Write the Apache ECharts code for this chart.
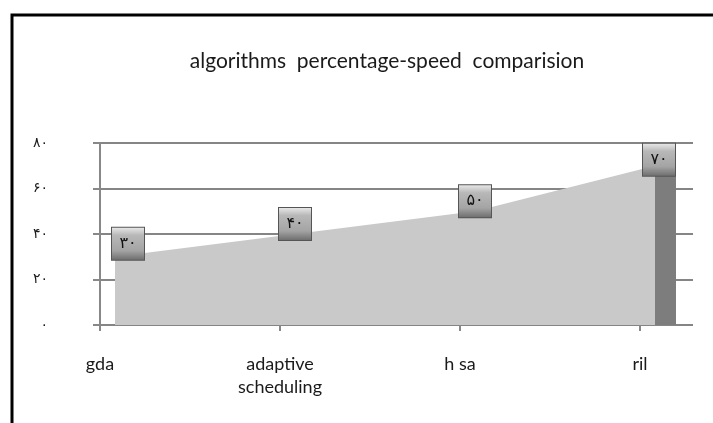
<!DOCTYPE html>
<html>
<head>
<meta charset="utf-8">
<script src="https://cdn.jsdelivr.net/npm/echarts@6/dist/echarts.min.js"></script>
<style>
  html, body { margin: 0; padding: 0; background: #fff; }
  #chart { width: 713px; height: 423px; }
</style>
</head>
<body>
<div id="chart"></div>
<script>
// ---- data ----
var chartTitle = 'algorithms  percentage-speed  comparision';
var categories = ['gda', 'adaptive\nscheduling', 'h sa', 'ril'];
var speedValues = [30, 40, 50, 70];
var yTicks = [0, 20, 40, 60, 80];

// Persian digits
function toFa(n) {
  var d = ['\u06F0','\u06F1','\u06F2','\u06F3','\u06F4','\u06F5','\u06F6','\u06F7','\u06F8','\u06F9'];
  return String(n).replace(/[0-9]/g, function (c) { return d[+c]; });
}

var chart = echarts.init(document.getElementById('chart'));
var yMin = yTicks[0], yMax = yTicks[yTicks.length - 1], yStep = yTicks[1] - yTicks[0];

var labelBg = new echarts.graphic.LinearGradient(0, 0, 0, 1, [
  { offset: 0, color: '#ececec' },
  { offset: 0.25, color: '#b8b8b8' },
  { offset: 0.7, color: '#a4a4a4' },
  { offset: 1, color: '#6a6a6a' }
]);

var areaData = speedValues.map(function (v, i) {
  var off = i === 0 ? [13, -13] : (i === speedValues.length - 1 ? [4, -6] : [0, -10]);
  return { value: v, label: { offset: off } };
});

var lastIdx = speedValues.length - 1;

var option = {
  animation: false,
  backgroundColor: '#fff',
  title: {
    text: chartTitle,
    left: 382,
    textAlign: 'center',
    top: 46,
    textStyle: { fontFamily: 'Lato', fontSize: 21, fontWeight: 'normal', color: '#1a1a1a' }
  },
  graphic: [{
    type: 'rect',
    shape: { x: 12, y: 15, width: 760, height: 460 },
    style: { fill: 'none', stroke: '#000', lineWidth: 3 },
    z: 100
  }],
  grid: [
    { left: 100, right: 20, top: 143, bottom: 98 },
    { left: 100, right: 73, top: 143, bottom: 98 },
    { left: 115, right: 58, top: 143, bottom: 98 }
  ],
  xAxis: [
    { gridIndex: 0, type: 'category', data: categories, show: false },
    {
      gridIndex: 1, type: 'category', data: categories, boundaryGap: false,
      axisLine: { show: false },
      axisTick: { show: true, length: 6, lineStyle: { color: '#888', width: 2 } },
      axisLabel: { margin: 28, fontFamily: 'Lato', fontSize: 18, color: '#1a1a1a', lineHeight: 23 },
      splitLine: { show: false }
    },
    { gridIndex: 2, type: 'category', data: categories, boundaryGap: false, show: false }
  ],
  yAxis: [
    {
      gridIndex: 0, type: 'value', min: yMin, max: yMax, interval: yStep,
      axisLine: { show: true, lineStyle: { color: '#888', width: 2 } },
      axisTick: { show: true, length: 7, lineStyle: { color: '#888', width: 2 } },
      axisLabel: {
        margin: 52, fontFamily: 'DejaVu Sans', fontSize: 14, color: '#1a1a1a',
        formatter: function (v) { return toFa(v); }
      },
      splitLine: { show: true, lineStyle: { color: '#858585', width: 2 } }
    },
    { gridIndex: 1, type: 'value', min: yMin, max: yMax, interval: yStep, show: false, splitLine: { show: false } },
    { gridIndex: 2, type: 'value', min: yMin, max: yMax, interval: yStep, show: false, splitLine: { show: false } }
  ],
  series: [
    {
      type: 'custom',
      xAxisIndex: 2, yAxisIndex: 2,
      data: [[lastIdx, speedValues[lastIdx]]],
      z: 3,
      renderItem: function (params, api) {
        var top = api.coord([api.value(0), api.value(1)]);
        var bot = api.coord([api.value(0), 0]);
        return {
          type: 'rect',
          shape: { x: top[0], y: top[1], width: 21, height: bot[1] - top[1] },
          style: { fill: '#7d7d7d' }
        };
      }
    },
    {
      type: 'line',
      xAxisIndex: 2, yAxisIndex: 2,
      data: areaData,
      z: 4,
      symbol: 'circle',
      symbolSize: 1,
      showSymbol: true,
      itemStyle: { color: 'rgba(0,0,0,0)' },
      lineStyle: { width: 0, color: 'rgba(0,0,0,0)' },
      areaStyle: { color: '#c9c9c9', opacity: 1 },
      label: {
        show: true,
        position: 'inside',
        formatter: function (p) { return toFa(p.value); },
        fontFamily: 'DejaVu Sans',
        fontSize: 16,
        color: '#111',
        width: 32,
        height: 32,
        lineHeight: 32,
        align: 'center',
        verticalAlign: 'middle',
        backgroundColor: labelBg,
        borderColor: '#555',
        borderWidth: 1
      },
      emphasis: { disabled: true }
    }
  ]
};
chart.setOption(option);
</script>
</body>
</html>
